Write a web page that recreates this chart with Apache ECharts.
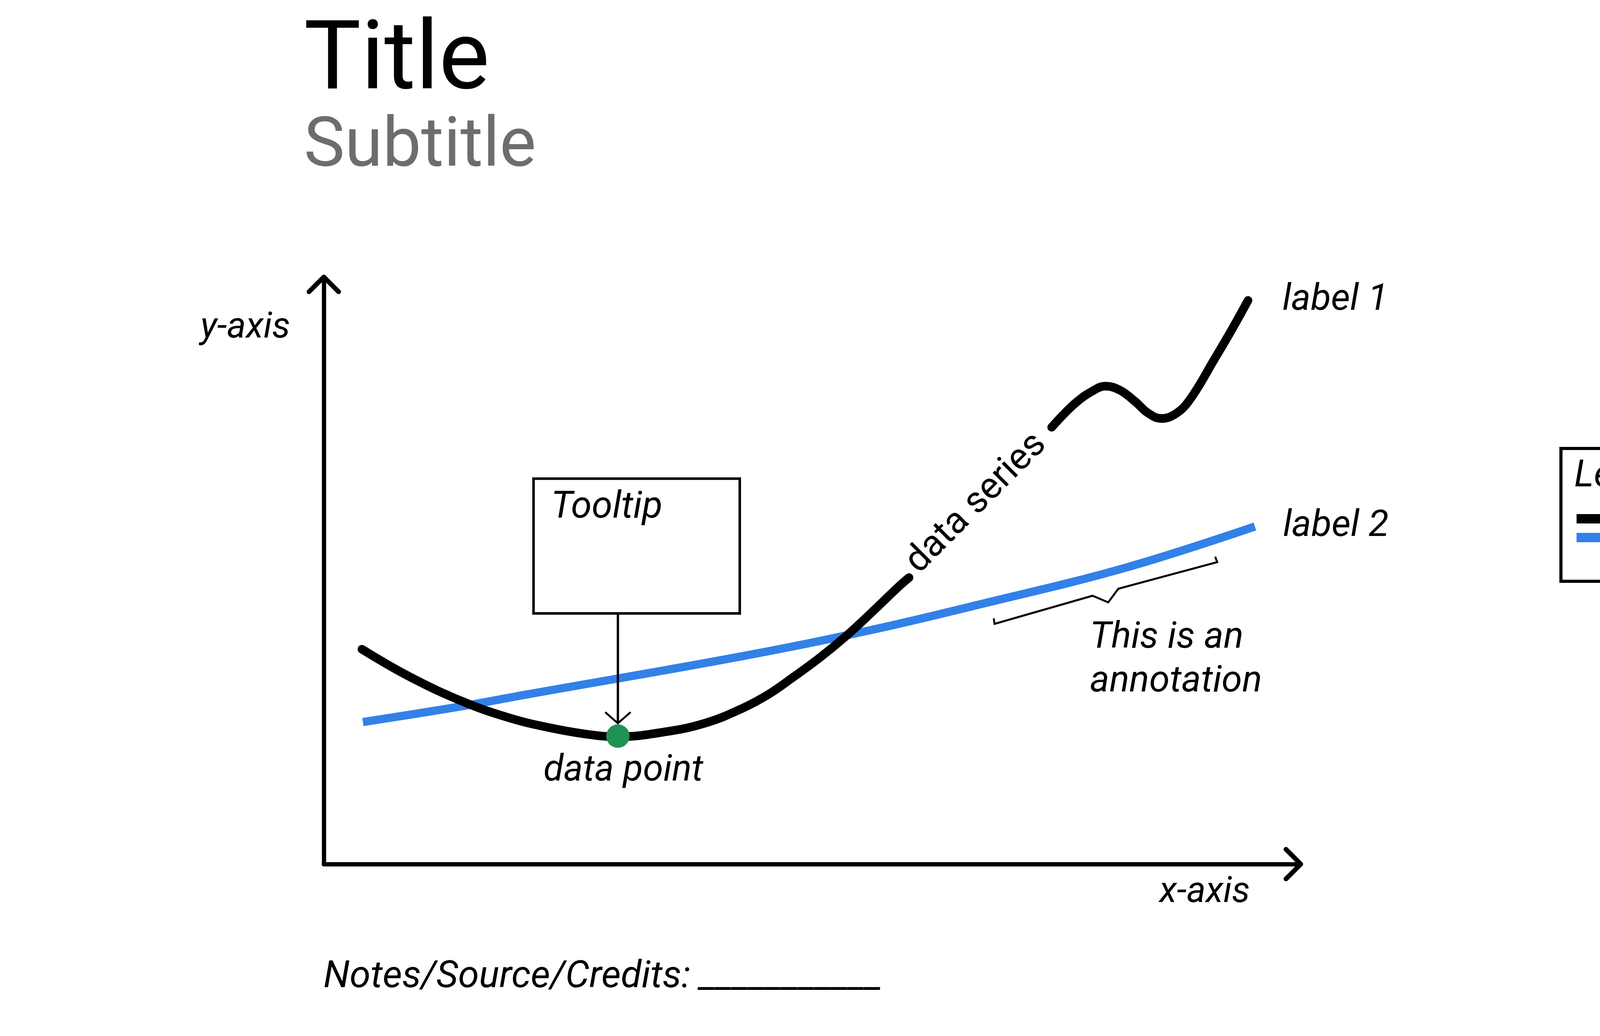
<!DOCTYPE html>
<html>
<head>
<meta charset="utf-8">
<title>Chart anatomy</title>
<script src="https://cdn.jsdelivr.net/npm/echarts@6.0.0/dist/echarts.min.js"></script>
<style>
    html, body { margin: 0; padding: 0; background: #fff; }
    #main { width: 5000px; height: 2652px; }
</style>
</head>
<body>
<div id="main"></div>
<script>
// === data (both axes run 0-100) ===
const seriesNames = ["label 1", "label 2"];

// black series, split where the "data series" text sits
const blackLower = [
    [3.9, 36.6], [8.8, 31.9], [14.2, 27.7], [18.8, 25.0], [22.9, 23.3],
    [27.0, 22.1], [30.1, 21.7], [35.2, 22.6], [39.2, 24.1], [42.8, 26.5],
    [45.5, 28.9], [48.1, 31.9], [50.8, 35.2], [53.5, 38.9], [56.1, 42.9],
    [58.8, 47.2], [59.9, 48.8]
];
const blackUpper = [
    [74.5, 74.4], [75.9, 76.9], [77.2, 78.9], [78.5, 80.4], [80.0, 81.4],
    [81.5, 80.7], [83.1, 78.7], [84.3, 76.9], [85.7, 75.9], [87.1, 76.6],
    [88.6, 79.0], [91.2, 86.1], [93.0, 91.2], [94.6, 96.0]
];
const blueSeries = [
    [4.0, 24.2], [14.2, 26.9], [20.8, 28.9], [42.8, 35.4], [56.1, 39.9],
    [66.8, 44.1], [82.1, 50.5], [95.3, 57.5]
];
const dataPoint = [30.1, 21.8];

const titleText = "Title";
const subtitleText = "Subtitle";
const xAxisName = "x-axis";
const yAxisName = "y-axis";
const legendTitle = "Legend";
const tooltipText = "Tooltip";
const pointText = "data point";
const seriesText = "data series";
const annotationText = "This is an\nannotation";
const notesText = "Notes/Source/Credits: ___________";

// open chevron used as the axis arrow head
const chevron = "path://M-4.95 39.05L39.05 -4.95A7 7 0 0 1 48.95 -4.95L92.95 39.05A7 7 0 0 1 83.05 48.95L44 9.9L4.95 48.95A7 7 0 0 1 -4.95 39.05Z";

const FONT = "Roboto, 'Noto Sans', sans-serif";
const BLUE = "#3281e9";
const GREEN = "#1f9254";

const axisBase = {
    type: "value",
    min: 0,
    max: 100,
    axisLine: {
        show: true,
        onZero: false,
        symbol: ["none", chevron],
        symbolSize: [88, 50],
        symbolOffset: [0, -19],
        lineStyle: { color: "#000", width: 11 }
    },
    axisTick: { show: false },
    axisLabel: { show: false },
    splitLine: { show: false },
    nameLocation: "end"
};

const chart = echarts.init(document.getElementById("main"));

chart.setOption({
    animation: false,
    backgroundColor: "#fff",
    title: {
        text: titleText,
        subtext: subtitleText,
        left: 778,
        top: 42,
        padding: 0,
        itemGap: 5,
        textStyle: { fontFamily: FONT, fontSize: 245, lineHeight: 245, fontWeight: "normal", color: "#000" },
        subtextStyle: { fontFamily: FONT, fontSize: 176, lineHeight: 176, color: "#6d6d6d" }
    },
    grid: { left: 829, top: 709, right: 1670, bottom: 440, containLabel: false, outerBoundsMode: "none" },
    xAxis: Object.assign({}, axisBase, {
        name: xAxisName,
        nameGap: -130,
        nameTextStyle: {
            fontFamily: FONT, fontSize: 93, lineHeight: 93, fontStyle: "italic", color: "#000",
            align: "right", verticalAlign: "top", padding: [27, 0, 0, 0]
        }
    }),
    yAxis: Object.assign({}, axisBase, {
        name: yAxisName,
        nameGap: -132,
        nameTextStyle: {
            fontFamily: FONT, fontSize: 93, lineHeight: 93, fontStyle: "italic", color: "#000",
            align: "right", verticalAlign: "middle", padding: [0, 86, 0, 0]
        }
    }),
    legend: {
        data: seriesNames,
        orient: "vertical",
        left: 3996,
        top: 1148,
        padding: [168, 236, 100, 40],
        itemWidth: 241,
        itemHeight: 24,
        itemGap: 24,
        icon: "rect",
        selectedMode: false,
        borderColor: "#000",
        borderWidth: 8,
        itemStyle: { borderWidth: 0 },
        formatter: () => ""
    },
    series: [
        {
            name: seriesNames[1],
            type: "line",
            data: blueSeries,
            smooth: 0.4,
            showSymbol: false,
            color: BLUE,
            z: 2,
            lineStyle: { color: BLUE, width: 21, cap: "butt" },
            endLabel: {
                show: true,
                formatter: seriesNames[1],
                distance: 72,
                fontFamily: FONT, fontSize: 95, fontStyle: "italic", color: "#000"
            }
        },
        {
            name: seriesNames[0],
            type: "line",
            data: blackLower.concat([[67, null]], blackUpper),
            connectNulls: false,
            smooth: 0.4,
            showSymbol: false,
            color: "#000",
            z: 3,
            lineStyle: { color: "#000", width: 22, cap: "round" },
            endLabel: {
                show: true,
                formatter: seriesNames[0],
                distance: 88,
                fontFamily: FONT, fontSize: 95, fontStyle: "italic", color: "#000"
            }
        },
        {
            name: pointText,
            type: "scatter",
            data: [dataPoint],
            symbolSize: 60,
            z: 4,
            itemStyle: { color: GREEN, opacity: 1 },
            label: {
                show: true,
                position: "bottom",
                distance: 13,
                offset: [14, 0],
                formatter: pointText,
                fontFamily: FONT, fontSize: 94, lineHeight: 94, fontStyle: "italic", color: "#000"
            }
        }
    ]
});

// === annotations: tooltip box hung on the data point, brace, texts ===
const p = chart.convertToPixel({ gridIndex: 0 }, dataPoint);
const tipY = p[1] - 33;
const boxBottom = p[1] - 314;

function label(text, x, y, size, italic) {
    return {
        type: "text",
        x: x,
        y: y,
        z: 50,
        style: {
            text: text,
            font: (italic ? "italic " : "") + size + "px " + FONT,
            fill: "#000",
            align: "left",
            textAlign: "left",
            verticalAlign: "middle",
            textVerticalAlign: "middle"
        }
    };
}

chart.setOption({
    graphic: {
        elements: [
            {
                type: "rect",
                z: 50,
                shape: { x: p[0] - 216, y: p[1] - 659, width: 528, height: 345 },
                style: { fill: "#fff", stroke: "#000", lineWidth: 6.5 }
            },
            label(tooltipText, p[0] - 171, p[1] - 583, 96, true),
            {
                type: "line",
                z: 50,
                shape: { x1: p[0], y1: boxBottom, x2: p[0], y2: tipY },
                style: { stroke: "#000", lineWidth: 6 }
            },
            {
                type: "polyline",
                z: 50,
                shape: { points: [[p[0] - 31, tipY - 27], [p[0], tipY], [p[0] + 31, tipY - 27]] },
                style: { stroke: "#000", lineWidth: 5, lineCap: "round", fill: null }
            },
            {
                type: "polyline",
                z: 50,
                shape: {
                    points: [[2544, 1583], [2546, 1597], [2797, 1525], [2837, 1542],
                             [2863, 1507], [3116, 1439], [3111, 1425]]
                },
                style: { stroke: "#000", lineWidth: 5, fill: null }
            },
            {
                type: "text",
                x: 2790,
                y: 1578,
                z: 50,
                style: {
                    text: annotationText,
                    font: "italic 95px " + FONT,
                    lineHeight: 112,
                    fill: "#000",
                    align: "left",
                    textAlign: "left",
                    verticalAlign: "top",
                    textVerticalAlign: "top"
                }
            },
            {
                type: "text",
                x: 2500,
                y: 1289,
                rotation: Math.PI / 4,
                z: 50,
                style: {
                    text: seriesText,
                    font: "95px " + FONT,
                    fill: "#000",
                    align: "center",
                    textAlign: "center",
                    verticalAlign: "middle",
                    textVerticalAlign: "middle"
                }
            },
            label(legendTitle, 4030, 1221, 96, true),
            label(notesText, 828, 2503, 97, true)
        ]
    }
});
</script>
</body>
</html>
